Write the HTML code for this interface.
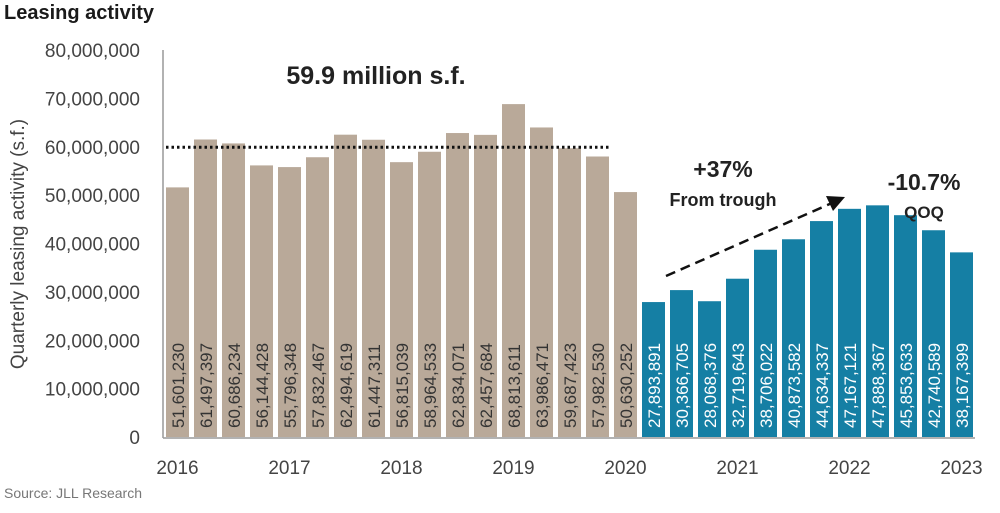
<!DOCTYPE html>
<html><head><meta charset="utf-8">
<style>
body{margin:0;background:#fff;width:1000px;height:508px;overflow:hidden;font-family:"Liberation Sans",sans-serif;}
svg text{font-family:"Liberation Sans",sans-serif;}
</style></head>
<body>
<svg id="chart" width="1000" height="508">
<text x="4" y="19" font-size="20" font-weight="bold" fill="#1a1a1a">Leasing activity</text>
<text transform="translate(24,244) rotate(-90)" text-anchor="middle" font-size="19" fill="#444">Quarterly leasing activity (s.f.)</text>
<text x="4" y="498" font-size="14" fill="#777">Source: JLL Research</text>
<g id="yaxis"></g><g id="bars"></g><g id="xaxis"></g>
<line x1="163" y1="50" x2="163" y2="438" stroke="#999" stroke-width="1.5"/>
<line x1="163" y1="438" x2="975" y2="438" stroke="#999" stroke-width="1.5"/>
<g id="annot"></g>
</svg>
<script>
const values=[51601230,61497397,60686234,56144428,55796348,57832467,62494619,61447311,56815039,58964533,62834071,62457684,68813611,63986471,59687423,57982530,50630252,27893891,30366705,28068376,32719643,38706022,40873582,44634337,47167121,47888367,45853633,42740589,38167399];
const yTicks=[0,10000000,20000000,30000000,40000000,50000000,60000000,70000000,80000000];
const yearLabels=["2016","2017","2018","2019","2020","2021","2022","2023"];
const avgLine=59900000;
const NS="http://www.w3.org/2000/svg";
const y=v=>437-v*(387/80000000);
const xc=i=>177.5+i*28;
function mk(tag,attrs,parent,txt){const e=document.createElementNS(NS,tag);for(const k in attrs)e.setAttribute(k,attrs[k]);if(txt!==undefined)e.textContent=txt;parent.appendChild(e);return e;}
const fmt=v=>v.toLocaleString("en-US");
const ya=document.getElementById("yaxis");
yTicks.forEach(t=>{const e=mk("text",{x:140,y:y(t)+7,"text-anchor":"end","font-size":19,fill:"#444"},ya,fmt(t));

});
const bg=document.getElementById("bars");
values.forEach((v,i)=>{const blue=i>=17;
const r=mk("rect",{x:xc(i)-11.5,y:y(v),width:23,height:437-y(v),fill:blue?"#157fa4":"#b9a999"},bg);


const t=mk("text",{transform:`translate(${xc(i)+6.5},428) rotate(-90)`,"font-size":17,fill:blue?"#fff":"#333"},bg,fmt(v));

});
const xa=document.getElementById("xaxis");
yearLabels.forEach((l,k)=>{const e=mk("text",{x:xc(k*4),y:474,"text-anchor":"middle","font-size":19,fill:"#444"},xa,l);

});
const an=document.getElementById("annot");
const dl=mk("line",{x1:166,y1:y(avgLine),x2:610,y2:y(avgLine),stroke:"#111","stroke-width":3,"stroke-dasharray":"2.5 3"},an);


const a1=mk("text",{x:376,y:84,"text-anchor":"middle","font-size":25,"font-weight":"bold",fill:"#222"},an,"59.9 million s.f.");


const ar=mk("line",{x1:666,y1:276,x2:832,y2:203,stroke:"#111","stroke-width":2.5,"stroke-dasharray":"10 6"},an);


const ah=mk("polygon",{points:"845,197 826,196 833,211",fill:"#111"},an);


const a2=mk("text",{x:723,y:177,"text-anchor":"middle","font-size":23,"font-weight":"bold",fill:"#222"},an,"+37%");


const a3=mk("text",{x:723,y:206,"text-anchor":"middle","font-size":18,"font-weight":"bold",fill:"#222"},an,"From trough");


const a4=mk("text",{x:924,y:190,"text-anchor":"middle","font-size":23,"font-weight":"bold",fill:"#222"},an,"-10.7%");


const a5=mk("text",{x:924,y:218,"text-anchor":"middle","font-size":17,"font-weight":"bold",fill:"#222"},an,"QOQ");


</script>
</body></html>
